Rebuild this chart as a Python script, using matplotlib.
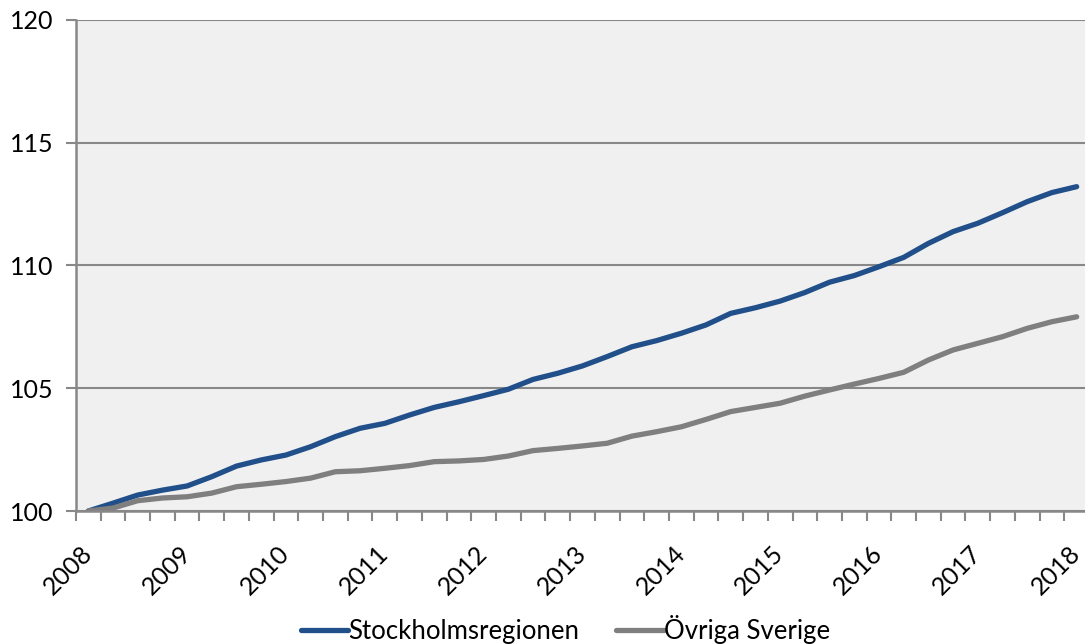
import matplotlib.pyplot as plt
import numpy as np

# kvartal 2008K1 - 2018K1, index 2008K1 = 100
years = [str(y) for y in range(2008, 2019)]
quarters = [f"{y}K{q}" for y in range(2008, 2019) for q in range(1, 5)][:41]

stockholm = [100.0, 100.32, 100.65, 100.85, 101.02, 101.4, 101.83, 102.08, 102.28, 102.62,
             103.03, 103.37, 103.57, 103.91, 104.22, 104.45, 104.7, 104.96, 105.36, 105.61,
             105.91, 106.29, 106.69, 106.94, 107.24, 107.58, 108.05, 108.28, 108.55, 108.9,
             109.32, 109.59, 109.95, 110.33, 110.9, 111.38, 111.72, 112.15, 112.6, 112.97,
             113.21]
ovriga = [100.0, 100.12, 100.42, 100.53, 100.58, 100.73, 100.99, 101.09, 101.2, 101.34,
          101.6, 101.64, 101.74, 101.85, 102.01, 102.04, 102.1, 102.24, 102.46, 102.55,
          102.65, 102.76, 103.05, 103.23, 103.43, 103.73, 104.05, 104.22, 104.39, 104.68,
          104.93, 105.17, 105.4, 105.65, 106.15, 106.56, 106.83, 107.1, 107.44, 107.71,
          107.91]

blue = '#214F8A'
gray = '#7F7F7F'
axis_gray = '#888888'

plt.rcParams['font.family'] = ['Lato', 'DejaVu Sans']

fig = plt.figure(figsize=(10.85, 6.44), dpi=100)
ax = fig.add_axes([0.07, 0.2065, 0.9337, 0.7625])
ax.set_facecolor('#F0F0F0')

x = np.arange(len(quarters))
ax.plot(x, stockholm, color=blue, lw=3.8, solid_capstyle='round',
        solid_joinstyle='round', label='Stockholmsregionen', zorder=3)
ax.plot(x, ovriga, color=gray, lw=3.8, solid_capstyle='round',
        solid_joinstyle='round', label='Övriga Sverige', zorder=3)

ax.set_xlim(-0.5, len(quarters) - 0.5)
ax.set_ylim(100, 120)
ax.set_yticks([100, 105, 110, 115, 120])
ax.yaxis.grid(True, color=axis_gray, lw=1.5)
ax.set_axisbelow(True)

ax.set_xticks(x[::4])
ax.set_xticklabels(years, rotation=45, ha='right', va='center', rotation_mode='anchor')
ax.set_xticks(np.arange(-0.5, len(quarters)), minor=True)
ax.tick_params(axis='x', which='major', length=0, pad=28, labelsize=18)
ax.tick_params(axis='x', which='minor', length=7, width=1.5, color=axis_gray)
ax.tick_params(axis='y', length=7, width=1.5, color=axis_gray, labelsize=18, pad=9)

for side in ['top', 'right']:
    ax.spines[side].set_visible(False)
for side in ['left', 'bottom']:
    ax.spines[side].set_color(axis_gray)
    ax.spines[side].set_linewidth(1.8)
ax.spines['bottom'].set_zorder(4)

fig.legend(loc='lower center', bbox_to_anchor=(0.521, -0.036), ncol=2, frameon=False,
           fontsize=18.5, handlelength=1.85, handletextpad=0.0, columnspacing=1.45)

fig.savefig('out.png', dpi=100)
